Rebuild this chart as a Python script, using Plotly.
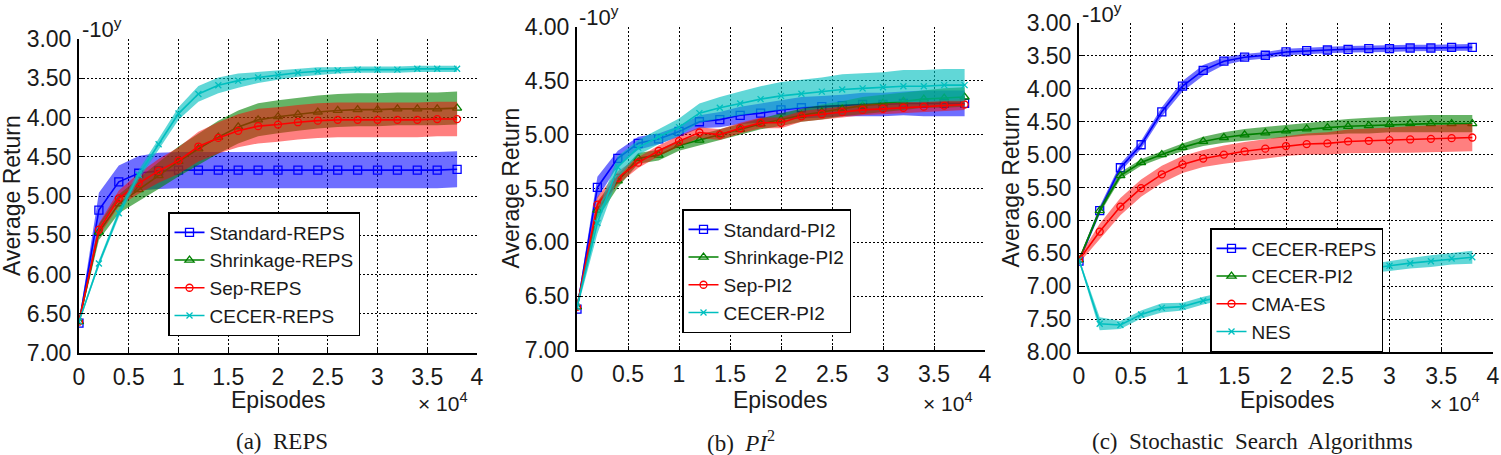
import plotly.graph_objects as go

# ---------------- data (x in units of 10^4 episodes) ----------------
episodes = [0.0, 0.2, 0.4, 0.6, 0.8, 1.0, 1.2, 1.4, 1.6, 1.8, 2.0,
            2.2, 2.4, 2.6, 2.8, 3.0, 3.2, 3.4, 3.6, 3.8]
x_ticks = [0, 0.5, 1, 1.5, 2, 2.5, 3, 3.5, 4]
x_tick_text = ["0", "0.5", "1", "1.5", "2", "2.5", "3", "3.5", "4"]

# (a) REPS
reps_names = ["Standard-REPS", "Shrinkage-REPS", "Sep-REPS", "CECER-REPS"]
reps_standard = [6.62, 5.18, 4.82, 4.71, 4.68, 4.67, 4.67, 4.67, 4.67, 4.67,
                 4.67, 4.67, 4.67, 4.67, 4.67, 4.67, 4.67, 4.67, 4.67, 4.66]
reps_standard_sd = [0.03, 0.22, 0.21, 0.22, 0.23, 0.23, 0.23, 0.23, 0.23, 0.23,
                    0.23, 0.23, 0.23, 0.23, 0.23, 0.23, 0.23, 0.23, 0.23, 0.23]
reps_shrink = [6.60, 5.46, 5.10, 4.92, 4.74, 4.56, 4.40, 4.25, 4.12, 4.03,
               3.99, 3.96, 3.93, 3.91, 3.90, 3.90, 3.89, 3.89, 3.89, 3.88]
reps_shrink_sd = [0.03, 0.10, 0.12, 0.15, 0.17, 0.19, 0.20, 0.21, 0.21, 0.21,
                  0.21, 0.21, 0.21, 0.21, 0.21, 0.21, 0.21, 0.21, 0.21, 0.21]
reps_sep = [6.60, 5.43, 5.03, 4.84, 4.68, 4.55, 4.37, 4.26, 4.17, 4.11,
            4.09, 4.06, 4.04, 4.03, 4.03, 4.03, 4.03, 4.03, 4.02, 4.02]
reps_sep_sd = [0.03, 0.08, 0.10, 0.13, 0.15, 0.17, 0.19, 0.20, 0.21, 0.22,
               0.22, 0.22, 0.22, 0.22, 0.22, 0.22, 0.22, 0.22, 0.22, 0.22]
reps_cecer = [6.60, 5.86, 5.22, 4.73, 4.34, 3.95, 3.70, 3.59, 3.53, 3.49,
              3.46, 3.43, 3.41, 3.40, 3.39, 3.39, 3.39, 3.38, 3.38, 3.38]
reps_cecer_sd = [0.02, 0.04, 0.05, 0.06, 0.07, 0.08, 0.10, 0.10, 0.09, 0.07,
                 0.06, 0.05, 0.05, 0.04, 0.04, 0.04, 0.04, 0.04, 0.04, 0.04]

# (b) PI2
pi2_names = ["Standard-PI2", "Shrinkage-PI2", "Sep-PI2", "CECER-PI2"]
pi2_standard = [6.62, 5.49, 5.22, 5.08, 5.04, 4.97, 4.88, 4.86, 4.82, 4.80,
                4.77, 4.75, 4.74, 4.73, 4.72, 4.72, 4.71, 4.71, 4.71, 4.71]
pi2_standard_sd = [0.03, 0.10, 0.07, 0.06, 0.05, 0.05, 0.06, 0.07, 0.08, 0.09,
                   0.09, 0.10, 0.10, 0.10, 0.11, 0.11, 0.11, 0.12, 0.12, 0.12]
pi2_shrink = [6.60, 5.70, 5.43, 5.22, 5.19, 5.10, 5.05, 5.00, 4.95, 4.90,
              4.86, 4.82, 4.79, 4.76, 4.73, 4.71, 4.69, 4.67, 4.66, 4.65]
pi2_shrink_sd = [0.03, 0.08, 0.06, 0.05, 0.05, 0.05, 0.05, 0.05, 0.05, 0.05,
                 0.06, 0.06, 0.07, 0.07, 0.08, 0.08, 0.08, 0.08, 0.09, 0.09]
pi2_sep = [6.60, 5.65, 5.40, 5.26, 5.15, 5.06, 4.98, 5.00, 4.94, 4.89,
           4.89, 4.83, 4.81, 4.79, 4.77, 4.76, 4.75, 4.74, 4.73, 4.72]
pi2_sep_sd = [0.03, 0.07, 0.06, 0.05, 0.05, 0.05, 0.05, 0.05, 0.05, 0.05,
              0.05, 0.05, 0.05, 0.05, 0.05, 0.05, 0.05, 0.05, 0.05, 0.05]
pi2_cecer = [6.60, 5.82, 5.30, 5.12, 5.02, 4.93, 4.80, 4.75, 4.71, 4.67,
             4.64, 4.62, 4.60, 4.58, 4.57, 4.56, 4.55, 4.55, 4.54, 4.54]
pi2_cecer_sd = [0.03, 0.10, 0.10, 0.07, 0.07, 0.08, 0.09, 0.10, 0.11, 0.12,
                0.13, 0.13, 0.13, 0.14, 0.14, 0.14, 0.15, 0.15, 0.15, 0.15]

# (c) Stochastic search algorithms
ss_names = ["CECER-REPS", "CECER-PI2", "CMA-ES", "NES"]
ss_cecer_reps = [6.62, 5.85, 5.20, 4.85, 4.35, 3.96, 3.72, 3.58, 3.52, 3.49,
                 3.44, 3.42, 3.41, 3.40, 3.39, 3.39, 3.38, 3.38, 3.37, 3.37]
ss_cecer_reps_sd = [0.03, 0.06, 0.06, 0.06, 0.07, 0.08, 0.08, 0.06, 0.05, 0.05,
                    0.05, 0.05, 0.05, 0.05, 0.05, 0.05, 0.05, 0.05, 0.05, 0.05]
ss_cecer_pi2 = [6.60, 5.85, 5.32, 5.12, 5.00, 4.89, 4.80, 4.74, 4.70, 4.67,
                4.64, 4.61, 4.59, 4.57, 4.56, 4.54, 4.53, 4.53, 4.53, 4.53]
ss_cecer_pi2_sd = [0.03, 0.05, 0.05, 0.05, 0.05, 0.06, 0.07, 0.08, 0.09, 0.09,
                   0.10, 0.10, 0.11, 0.11, 0.12, 0.12, 0.12, 0.13, 0.13, 0.13]
ss_cmaes = [6.60, 6.17, 5.79, 5.51, 5.30, 5.15, 5.06, 5.00, 4.95, 4.91,
            4.87, 4.84, 4.83, 4.80, 4.79, 4.78, 4.77, 4.76, 4.75, 4.74]
ss_cmaes_sd = [0.05, 0.12, 0.13, 0.13, 0.13, 0.13, 0.13, 0.14, 0.14, 0.15,
               0.15, 0.16, 0.17, 0.18, 0.18, 0.19, 0.20, 0.20, 0.21, 0.21]
ss_nes = [6.60, 7.57, 7.59, 7.43, 7.33, 7.31, 7.22, 7.15, 7.08, 7.01,
          6.94, 6.88, 6.83, 6.78, 6.73, 6.69, 6.65, 6.62, 6.58, 6.56]
ss_nes_sd = [0.03, 0.10, 0.06, 0.06, 0.07, 0.06, 0.06, 0.06, 0.06, 0.06,
             0.06, 0.07, 0.07, 0.07, 0.07, 0.08, 0.08, 0.09, 0.09, 0.10]

# ---------------- styling ----------------
W, H = 1501, 455
FONT = "Liberation Sans, Arial, sans-serif"
SERIF = "Liberation Serif, Times New Roman, serif"
TXT = "#1a1a1a"

line_cols = ["#0000ff", "#008000", "#ff0000", "#00bfbf"]
band_cols = ["rgba(0,0,255,0.57)", "rgba(0,128,0,0.6)",
             "rgba(255,0,0,0.5)", "rgba(0,191,191,0.62)"]
symbols = ["square-open", "triangle-up-open", "circle-open", "x-thin"]
msizes = [8, 8, 7, 6]

fig = go.Figure()

panels = [
    dict(names=reps_names,
         series=[(reps_standard, reps_standard_sd), (reps_shrink, reps_shrink_sd),
                 (reps_sep, reps_sep_sd), (reps_cecer, reps_cecer_sd)],
         px=(79, 477), py=(39, 353), yr=(3.0, 7.0),
         legend=dict(x=168, y=274, anchor="middle"), ytitle_x=12, exp=(80, 28),
         caption="(a)  REPS", cap_x=282, xtitle_x=278, times_x=443),
    dict(names=pi2_names,
         series=[(pi2_standard, pi2_standard_sd), (pi2_shrink, pi2_shrink_sd),
                 (pi2_sep, pi2_sep_sd), (pi2_cecer, pi2_cecer_sd)],
         px=(577, 985), py=(27, 350), yr=(4.0, 7.0),
         legend=dict(x=682, y=271, anchor="middle"), ytitle_x=510, exp=(577, 16),
         caption="(b)  <i>PI</i><sup>2</sup>", cap_x=741, xtitle_x=781, times_x=948),
    dict(names=ss_names,
         series=[(ss_cecer_reps, ss_cecer_reps_sd), (ss_cecer_pi2, ss_cecer_pi2_sd),
                 (ss_cmaes, ss_cmaes_sd), (ss_nes, ss_nes_sd)],
         px=(1079, 1493), py=(23, 352), yr=(3.0, 8.0),
         legend=dict(x=1210, y=352, anchor="bottom"), ytitle_x=1010, exp=(1080, 13),
         caption="(c)  Stochastic  Search  Algorithms", cap_x=1252, xtitle_x=1287, times_x=1455),
]

annotations = []
for i, p in enumerate(panels):
    k = "" if i == 0 else str(i + 1)
    xa, ya = "x" + k, "y" + k
    leg = "legend" + k
    for j, (mean, sd) in enumerate(p["series"]):
        upper = [m - s for m, s in zip(mean, sd)]
        lower = [m + s for m, s in zip(mean, sd)]
        fig.add_trace(go.Scatter(
            x=episodes + episodes[::-1], y=upper + lower[::-1],
            fill="toself", fillcolor=band_cols[j], mode="lines",
            line=dict(width=0), hoverinfo="skip", showlegend=False,
            xaxis=xa, yaxis=ya))
        fig.add_trace(go.Scatter(
            x=episodes, y=mean, mode="lines+markers", name=p["names"][j],
            line=dict(color=line_cols[j], width=1.6),
            marker=dict(symbol=symbols[j], size=msizes[j], color=line_cols[j],
                        line=dict(color=line_cols[j], width=1.3)),
            legend=leg, xaxis=xa, yaxis=ya))

    y0, y1 = p["yr"]
    nt = int(round((y1 - y0) / 0.5)) + 1
    yt = [y0 + 0.5 * t for t in range(nt)]
    axcommon = dict(showgrid=True, gridcolor="#000000", griddash="2px,2px", gridwidth=1,
                    showline=True, linecolor="#000000", linewidth=2, mirror=False,
                    ticks="inside", ticklen=4, tickcolor="#000000", automargin=False,
                    tickfont=dict(family=FONT, size=23, color=TXT), zeroline=False)
    fig.update_layout(**{
        "xaxis" + k: dict(domain=[p["px"][0] / W, p["px"][1] / W], anchor=ya,
                          range=[0, 4], tickvals=x_ticks, ticktext=x_tick_text,
                          ticklabelstandoff=2, **axcommon),
        "yaxis" + k: dict(domain=[1 - p["py"][1] / H, 1 - p["py"][0] / H], anchor=xa,
                          range=[y1, y0], tickvals=yt, ticklabelstandoff=1,
                          ticktext=["%.2f" % v for v in yt], **axcommon),
        leg: dict(x=p["legend"]["x"] / W, y=1 - p["legend"]["y"] / H,
                  xanchor="left", yanchor=p["legend"]["anchor"], bgcolor="#ffffff",
                  bordercolor="#000000", borderwidth=1.5,
                  font=dict(family=FONT, size=19, color=TXT),
                  tracegroupgap=0, itemwidth=30),
    })
    cy = (p["py"][0] + p["py"][1]) / 2
    annotations += [
        dict(text="Average Return", x=p["ytitle_x"] / W, y=1 - cy / H, xref="paper",
             yref="paper", textangle=-90, showarrow=False, xanchor="center",
             yanchor="middle", font=dict(family=FONT, size=23, color=TXT)),
        dict(text="Episodes", x=p["xtitle_x"] / W, y=1 - 400 / H, xref="paper",
             yref="paper", showarrow=False, xanchor="center", yanchor="middle",
             font=dict(family=FONT, size=23, color=TXT)),
        dict(text="× 10<sup>4</sup>", x=p["times_x"] / W, y=1 - 402 / H, xref="paper",
             yref="paper", showarrow=False, xanchor="center", yanchor="middle",
             font=dict(family=FONT, size=21, color=TXT)),
        dict(text="-10<sup>y</sup>", x=p["exp"][0] / W, y=1 - p["exp"][1] / H,
             xref="paper", yref="paper", showarrow=False, xanchor="left",
             yanchor="middle", font=dict(family=FONT, size=22, color=TXT)),
        dict(text=p["caption"], x=p["cap_x"] / W, y=1 - 441 / H, xref="paper",
             yref="paper", showarrow=False, xanchor="center", yanchor="middle",
             font=dict(family=SERIF, size=23, color=TXT)),
    ]

fig.update_layout(width=W, height=H, margin=dict(l=0, r=0, t=0, b=0, autoexpand=False),
                  paper_bgcolor="#ffffff", plot_bgcolor="#ffffff",
                  annotations=annotations)

fig.write_html("out.html")
